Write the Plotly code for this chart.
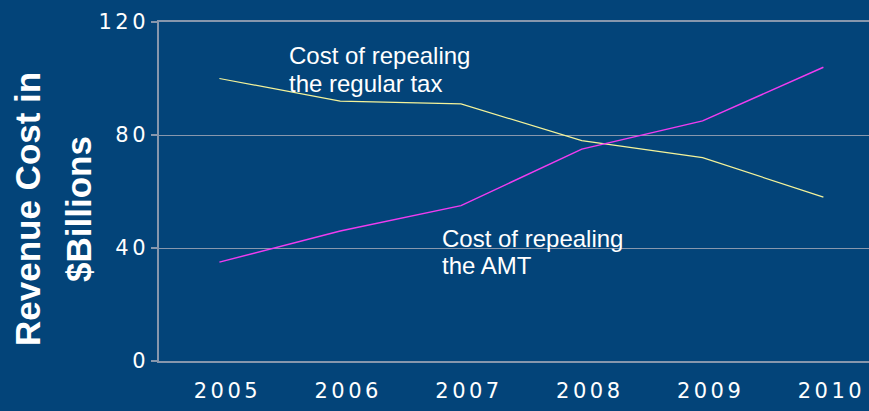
import plotly.graph_objects as go

# Revenue cost (in $ billions) of two repeal options, 2005-2010
years = [2005, 2006, 2007, 2008, 2009, 2010]
regular_tax_cost = [100, 92, 91, 78, 72, 58]
amt_cost = [35, 46, 55, 75, 85, 104]
y_ticks = [0, 40, 80, 120]

BG = "#034479"
GRID = "#8797ad"
TICK_FONT = dict(family="DejaVu Sans", size=21, color="white")

W, H = 869, 411
L, R, T, B = 159, 0, 22, 50
plot_w = W - L - R
plot_h = H - T - B
step = 120.8  # pixel width of one year on the x axis


def px_to_x(px):
    return years[0] - 0.5 + (px - L) / step


def py_to_y(py):
    return (T + plot_h - py) * 120 / plot_h


fig = go.Figure()
fig.add_trace(go.Scatter(
    x=years, y=regular_tax_cost, mode="lines",
    line=dict(color="#f4f39a", width=1.2), name="Regular tax",
))
fig.add_trace(go.Scatter(
    x=years, y=amt_cost, mode="lines",
    line=dict(color="#f03cf0", width=1.5), name="AMT",
))

label_font = dict(family="Liberation Sans", size=24, color="white")
labels = [
    ("Cost of repealing", 287, 55),
    ("the regular tax", 287, 83),
    ("Cost of repealing", 440, 238),
    ("the AMT", 440, 265),
]
for text, px, py in labels:
    fig.add_annotation(
        x=px_to_x(px), y=py_to_y(py), text=text, showarrow=False,
        xanchor="left", yanchor="middle", font=label_font,
    )

title_font = dict(family="Liberation Sans", size=35, color="white", weight="bold")
for text, px in [("Revenue Cost in", 27), ("$Billions", 78)]:
    fig.add_annotation(
        xref="paper", yref="paper",
        x=(px - L) / plot_w, y=(T + plot_h - 209) / plot_h,
        text=text, textangle=-90, showarrow=False,
        xanchor="center", yanchor="middle", font=title_font,
    )

fig.update_layout(
    width=W, height=H,
    margin=dict(l=L, r=R, t=T, b=B),
    paper_bgcolor=BG, plot_bgcolor=BG,
    showlegend=False,
    xaxis=dict(
        range=[years[0] - 0.5, years[0] - 0.5 + plot_w / step],
        tickmode="array", tickvals=years, ticktext=[str(y) for y in years],
        tickfont=TICK_FONT, showgrid=False, zeroline=False,
        showline=True, mirror=True, linecolor=GRID, linewidth=1.5,
        ticks="", ticklabelshift=8, ticklabelstandoff=10,
    ),
    yaxis=dict(
        range=[0, 120], tickmode="array", tickvals=y_ticks,
        tickfont=TICK_FONT, showgrid=True, gridcolor=GRID, gridwidth=1,
        zeroline=False, showline=True, linecolor=GRID, linewidth=1.5,
        ticks="outside", ticklen=6, tickcolor=GRID, tickwidth=1.5,
        ticklabelstandoff=-2,
    ),
)

# widen the spacing between tick label digits
spacing_js = (
    "document.querySelectorAll('.xtick text, .ytick text')"
    ".forEach(function(t){t.style.letterSpacing='3.5px';});"
)
fig.write_html("out.html", post_script=spacing_js)
